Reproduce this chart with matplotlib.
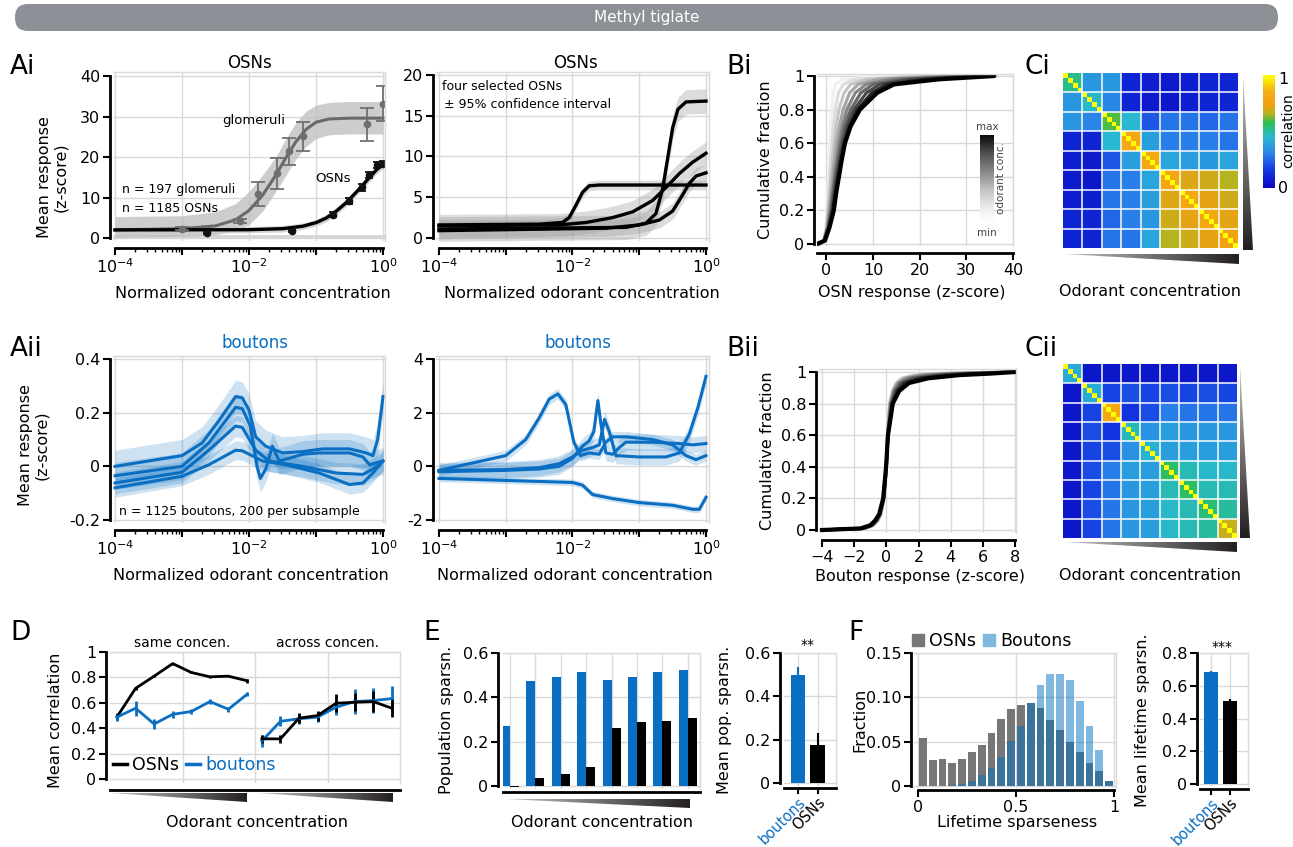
import numpy as np
import matplotlib
matplotlib.use("Agg")
import matplotlib.pyplot as plt
from matplotlib.colors import LinearSegmentedColormap
from matplotlib.patches import FancyBboxPatch, Polygon, Patch
from matplotlib.lines import Line2D
from matplotlib.ticker import FixedLocator, FixedFormatter, LogLocator, NullFormatter

plt.rcParams["font.family"] = ["DejaVu Sans"]

W, H = 1293, 847
BLUE = "#0a6fc2"
GRID = "#d9d9d9"
TICK = 11.5
LAB = 11.5

# ---------------- data ----------------
# Ai (left): glomeruli + OSN dose-response, x stored as log10(concentration)
glom_logx = [-3.0, -2.14, -1.87, -1.58, -1.40, -1.20, -0.24, 0.0]
glom_y = [2.3, 4.3, 10.9, 16.0, 21.4, 25.1, 28.1, 33.2]
glom_err = [0.4, 0.5, 3.0, 3.8, 3.3, 3.6, 4.1, 4.3]
glom_fit_logx = [-4, -3, -2.5, -2.2, -2.0, -1.8, -1.6, -1.45, -1.3, -1.15, -1.0, -0.8, -0.5, 0]
glom_fit = [2.0, 2.3, 3.0, 4.5, 6.8, 10.5, 15.5, 19.8, 23.8, 26.8, 28.6, 29.4, 29.6, 29.6]
glom_lo = [0.2, 0.4, 0.8, 1.8, 3.3, 6.5, 11.5, 15.5, 19.5, 22.6, 24.6, 25.5, 25.7, 25.7]
glom_hi = [5.3, 5.5, 6.5, 8.5, 11.5, 15.5, 20.0, 24.5, 28.5, 31.3, 32.8, 33.5, 33.7, 33.7]

osn_logx = [-2.63, -1.36, -0.74, -0.51, -0.32, -0.21, -0.09, 0.0]
osn_y = [1.3, 1.7, 5.8, 9.2, 12.5, 15.6, 18.1, 18.2]
osn_err = [0.3, 0.3, 0.5, 0.7, 0.8, 0.8, 0.7, 0.7]
osn_fit_logx = [-4, -2, -1.5, -1.2, -1.0, -0.85, -0.7, -0.55, -0.4, -0.3, -0.2, -0.1, 0]
osn_fit = [2.0, 2.05, 2.3, 2.9, 3.8, 4.9, 6.6, 8.7, 11.3, 13.1, 15.0, 16.8, 18.2]
osn_lo = [1.2, 1.3, 1.5, 2.1, 3.0, 4.0, 5.7, 7.8, 10.4, 12.2, 14.0, 15.8, 17.1]
osn_hi = [2.8, 2.8, 3.1, 3.7, 4.6, 5.8, 7.5, 9.6, 12.2, 14.0, 16.0, 17.8, 19.3]
osn_floor = [-0.3, 0.7]

# Ai (right): four selected OSNs
sel_logx = [
    [-4, -2.5, -2.15, -2.05, -1.95, -1.85, -1.75, -1.6, 0],
    [-4, -1.2, -0.9, -0.75, -0.65, -0.57, -0.5, -0.42, -0.3, 0],
    [-4, -2.2, -1.8, -1.4, -1.1, -0.8, -0.6, -0.4, -0.2, 0],
    [-4, -1.5, -1.0, -0.7, -0.5, -0.35, -0.25, -0.15, 0],
]
sel_y = [
    [1.6, 1.7, 1.9, 2.5, 4.0, 5.6, 6.4, 6.5, 6.5],
    [1.1, 1.3, 1.8, 3.0, 6.0, 10.0, 13.5, 15.8, 16.7, 16.8],
    [1.5, 1.6, 1.9, 2.5, 3.2, 4.6, 6.2, 7.9, 9.3, 10.4],
    [0.9, 1.2, 1.6, 2.2, 3.3, 5.3, 6.7, 7.6, 8.0],
]
sel_ci = [0.6, 1.5, 1.4, 1.0]

# Aii: bouton subsample means
bout_logx_l = [
    [-4, -3, -2.7, -2.45, -2.2, -2.1, -2.0, -1.9, -1.75, -1.5, -1.2, -0.9, -0.5, -0.25, -0.15, -0.08, 0],
    [-4, -3, -2.6, -2.2, -2.1, -1.98, -1.88, -1.83, -1.75, -1.65, -1.55, -1.4, -1.2, -0.95, -0.5, -0.3, -0.2, 0],
    [-4, -3, -2.6, -2.2, -2.1, -1.9, -1.7, -1.2, -0.7, -0.3, -0.15, 0],
    [-4, -3, -2.6, -2.2, -2.1, -1.8, -1.45, -0.95, -0.5, -0.3, -0.15, 0],
]
bout_y_l = [
    [0.0, 0.04, 0.087, 0.17, 0.26, 0.255, 0.21, 0.11, 0.075, 0.05, 0.055, 0.065, 0.065, 0.05, 0.04, 0.1, 0.26],
    [-0.035, 0.0, 0.087, 0.22, 0.215, 0.15, 0.0, -0.045, -0.01, 0.075, 0.02, 0.03, 0.045, 0.05, 0.05, 0.035, 0.006, 0.02],
    [-0.062, -0.022, 0.06, 0.15, 0.145, 0.06, 0.02, 0.0, -0.025, -0.03, -0.01, 0.02],
    [-0.08, -0.037, 0.006, 0.06, 0.058, 0.02, 0.006, -0.025, -0.068, -0.062, -0.025, 0.02],
]
bout_ci_l = [0.06, 0.05, 0.04, 0.035]

bout_logx_r = [
    [-4, -3, -2.7, -2.5, -2.35, -2.22, -2.1, -1.98, -1.88, -1.75, -1.6, -1.5, -1.4, -1.2, -0.8, -0.5, -0.3, -0.15, 0],
    [-4, -3, -2.5, -2.2, -2.0, -1.85, -1.75, -1.68, -1.62, -1.57, -1.5, -1.4, -1.3, -1.2, -0.8, -0.4, -0.2, 0],
    [-4, -3, -2.5, -2.2, -2.0, -1.85, -1.7, -1.6, -1.52, -1.45, -1.35, -1.0, -0.6, -0.4, -0.25, -0.12, 0],
    [-4, -2, -1.85, -1.7, -1.4, -1.0, -0.5, -0.2, -0.1, 0],
]
bout_y_r = [
    [-0.15, 0.4, 1.0, 1.8, 2.5, 2.7, 2.3, 0.9, 0.4, 0.5, 0.45, 0.9, 1.1, 1.1, 1.0, 0.8, 0.4, 0.25, 0.4],
    [-0.2, -0.15, -0.1, 0.0, 0.3, 0.75, 0.95, 1.3, 2.45, 1.5, 0.5, 0.45, 0.7, 0.9, 0.9, 0.85, 0.8, 0.85],
    [-0.15, -0.12, -0.05, 0.1, 0.35, 0.6, 0.7, 0.8, 1.75, 1.3, 0.4, 0.35, 0.35, 0.5, 1.2, 2.2, 3.35],
    [-0.45, -0.6, -0.7, -1.05, -1.2, -1.35, -1.45, -1.6, -1.6, -1.15],
]
bout_ci_r = [0.2, 0.3, 0.3, 0.12]

# Bi / Bii: cumulative distributions (x value reached at each cumulative level)
osn_levels = [0, 0.02, 0.1, 0.2, 0.3, 0.4, 0.5, 0.6, 0.7, 0.8, 0.9, 0.95, 0.98, 1.0]
osn_cdf_x = [
    [-1.2, -0.5, -0.1, 0.1, 0.3, 0.45, 0.6, 0.75, 0.9, 1.1, 1.5, 2.0, 3.5, 12],
    [-1.3, -0.5, 0.0, 0.25, 0.5, 0.7, 0.95, 1.2, 1.5, 1.9, 2.6, 3.6, 6.0, 18],
    [-1.4, -0.5, 0.1, 0.4, 0.7, 1.0, 1.3, 1.7, 2.1, 2.7, 3.8, 5.2, 8.5, 22],
    [-1.5, -0.5, 0.2, 0.6, 1.0, 1.35, 1.75, 2.2, 2.8, 3.6, 5.0, 6.8, 11, 25],
    [-1.6, -0.5, 0.3, 0.8, 1.25, 1.7, 2.2, 2.75, 3.4, 4.4, 6.2, 8.5, 13.5, 28],
    [-1.7, -0.5, 0.4, 1.0, 1.45, 1.95, 2.5, 3.1, 3.9, 5.2, 7.4, 10, 16, 30],
    [-1.8, -0.5, 0.5, 1.2, 1.7, 2.2, 2.8, 3.5, 4.4, 5.9, 8.6, 11.5, 18, 32],
    [-1.9, -0.4, 0.6, 1.4, 1.9, 2.5, 3.1, 3.8, 4.9, 6.6, 9.8, 13, 21, 34],
    [-2.0, -0.3, 0.7, 1.6, 2.1, 2.7, 3.3, 4.0, 5.2, 7.2, 10.9, 14.5, 24, 36],
]
bout_levels = [0, 0.01, 0.03, 0.06, 0.1, 0.2, 0.4, 0.6, 0.8, 0.88, 0.93, 0.96, 0.98, 0.99, 1.0]
bout_cdf_x = [
    [-4, -1.3, -0.8, -0.52, -0.34, -0.14, 0.0, 0.06, 0.2, 0.38, 0.6, 0.95, 1.7, 3.0, 8],
    [-4, -1.35, -0.82, -0.55, -0.36, -0.15, 0.0, 0.07, 0.22, 0.42, 0.68, 1.1, 2.0, 3.5, 8],
    [-4, -1.4, -0.85, -0.58, -0.38, -0.16, 0.0, 0.08, 0.26, 0.48, 0.78, 1.3, 2.4, 4.0, 8],
    [-4, -1.45, -0.9, -0.6, -0.4, -0.17, 0.0, 0.09, 0.3, 0.55, 0.9, 1.6, 3.0, 4.8, 8],
    [-4, -1.5, -0.95, -0.65, -0.42, -0.18, -0.01, 0.1, 0.35, 0.65, 1.1, 2.0, 3.6, 5.5, 8],
    [-4, -1.6, -1.0, -0.7, -0.45, -0.2, -0.02, 0.1, 0.4, 0.8, 1.4, 2.6, 4.5, 6.5, 8],
]

# Ci / Cii: mean correlation between concentration blocks (9 concentrations, 4 trials each)
osn_corr_blocks = [
    [0.52, 0.36, 0.36, 0.10, 0.08, 0.06, 0.08, 0.10, 0.10],
    [0.36, 0.46, 0.32, 0.10, 0.06, 0.05, 0.08, 0.10, 0.10],
    [0.36, 0.32, 0.60, 0.45, 0.22, 0.28, 0.28, 0.25, 0.28],
    [0.10, 0.10, 0.45, 0.80, 0.38, 0.30, 0.30, 0.30, 0.28],
    [0.08, 0.06, 0.22, 0.38, 0.82, 0.40, 0.38, 0.36, 0.40],
    [0.06, 0.05, 0.28, 0.30, 0.40, 0.80, 0.71, 0.69, 0.66],
    [0.08, 0.08, 0.28, 0.30, 0.38, 0.71, 0.80, 0.72, 0.69],
    [0.10, 0.10, 0.25, 0.30, 0.36, 0.69, 0.72, 0.80, 0.72],
    [0.10, 0.10, 0.28, 0.28, 0.40, 0.66, 0.69, 0.72, 0.76],
]
bout_corr_blocks = [
    [0.42, 0.05, 0.05, 0.05, 0.05, 0.05, 0.05, 0.05, 0.05],
    [0.05, 0.42, 0.18, 0.20, 0.18, 0.20, 0.18, 0.20, 0.18],
    [0.05, 0.18, 0.82, 0.15, 0.20, 0.30, 0.28, 0.28, 0.28],
    [0.05, 0.20, 0.15, 0.47, 0.35, 0.38, 0.36, 0.36, 0.36],
    [0.05, 0.18, 0.20, 0.35, 0.44, 0.38, 0.38, 0.38, 0.38],
    [0.05, 0.20, 0.30, 0.38, 0.38, 0.56, 0.48, 0.46, 0.46],
    [0.05, 0.18, 0.28, 0.36, 0.38, 0.48, 0.56, 0.48, 0.48],
    [0.05, 0.20, 0.28, 0.36, 0.38, 0.46, 0.48, 0.54, 0.50],
    [0.05, 0.18, 0.28, 0.36, 0.38, 0.46, 0.48, 0.50, 0.68],
]
n_trials = 4

# D: mean correlation
d_same_osn = [0.49, 0.714, 0.81, 0.909, 0.839, 0.805, 0.81, 0.774]
d_same_osn_err = [0.025, 0.01, 0.01, 0.008, 0.008, 0.008, 0.01, 0.015]
d_same_bout = [0.488, 0.558, 0.434, 0.51, 0.532, 0.61, 0.55, 0.667]
d_same_bout_err = [0.03, 0.06, 0.04, 0.025, 0.02, 0.02, 0.02, 0.015]
d_across_osn = [0.317, 0.317, 0.48, 0.50, 0.597, 0.605, 0.61, 0.558]
d_across_osn_err = [0.03, 0.03, 0.04, 0.04, 0.07, 0.07, 0.08, 0.07]
d_across_bout = [0.30, 0.455, 0.475, 0.488, 0.566, 0.61, 0.618, 0.634]
d_across_bout_err = [0.05, 0.04, 0.04, 0.04, 0.06, 0.1, 0.1, 0.1]

# E: population sparseness
pop_sp_bout = [0.27, 0.475, 0.493, 0.515, 0.479, 0.493, 0.515, 0.524]
pop_sp_osn = [-0.004, 0.039, 0.057, 0.085, 0.261, 0.289, 0.293, 0.307]
mean_pop_sp = [0.499, 0.178]
mean_pop_sp_err = [0.037, 0.052]

# F: lifetime sparseness histogram (20 bins of 0.05) and means
life_bins = np.arange(0, 1.0, 0.05)
life_osn = [0.0538, 0.0292, 0.0303, 0.0258, 0.0307, 0.0386, 0.046, 0.0595, 0.076, 0.0875,
            0.092, 0.094, 0.0886, 0.0746, 0.063, 0.050, 0.038, 0.026, 0.017, 0.0064]
life_bout = [0.0, 0.0, 0.0005, 0.0015, 0.0027, 0.0064, 0.0125, 0.020, 0.033, 0.051,
             0.068, 0.094, 0.114, 0.126, 0.126, 0.120, 0.096, 0.068, 0.041, 0.0064]
mean_life_sp = [0.683, 0.506]
mean_life_sp_err = [0.01, 0.012]
group_names = ["boutons", "OSNs"]

# ---------------- helpers ----------------
fig = plt.figure(figsize=(W / 100, H / 100), dpi=100)


def add_box(x0, y0, x1, y1):
    return fig.add_axes([x0 / W, 1 - y1 / H, (x1 - x0) / W, (y1 - y0) / H])


def ftext(x, y, s, **kw):
    return fig.text(x / W, 1 - y / H, s, **kw)


def frame(ax, left_px=3, bottom_px=7):
    ax.set_axisbelow(True)
    ax.grid(True, color=GRID, lw=1)
    for side in ("top", "right"):
        ax.spines[side].set_color(GRID)
        ax.spines[side].set_linewidth(1)
    for side, off in (("left", left_px), ("bottom", bottom_px)):
        ax.spines[side].set_linewidth(2)
        ax.spines[side].set_position(("outward", off * 0.72))
    ax.tick_params(direction="out", length=5, width=1.5, labelsize=TICK, pad=2)


def yticks(ax, vals, labels):
    ax.set_yticks(vals)
    ax.set_yticklabels(labels)
    ax.spines["left"].set_bounds(vals[0], vals[-1])


def log_x(ax, pad_dec):
    ax.set_xscale("log")
    ax.set_xlim(10 ** (-4 - pad_dec), 10 ** pad_dec)
    ax.xaxis.set_major_locator(FixedLocator([1e-4, 1e-3, 1e-2, 1e-1, 1]))
    ax.xaxis.set_major_formatter(FixedFormatter(["$10^{-4}$", "", "$10^{-2}$", "", "$10^{0}$"]))
    ax.xaxis.set_minor_locator(LogLocator(base=10, subs=np.arange(2, 10)))
    ax.xaxis.set_minor_formatter(NullFormatter())
    ax.tick_params(axis="x", which="minor", length=3, width=1)
    ax.spines["bottom"].set_bounds(1e-4, 1)


wedge_cmap = LinearSegmentedColormap.from_list("wedge", ["#c4c4c4", "#231f20"])


def wedge(pts, vertical=False):
    xs = [p[0] for p in pts]
    ys = [p[1] for p in pts]
    x0, x1, y0, y1 = min(xs), max(xs), min(ys), max(ys)
    ax = add_box(x0, y0, x1, y1)
    ax.axis("off")
    g = np.linspace(0, 1, 256)
    grad = g[:, None] if vertical else g[None, :]
    im = ax.imshow(grad, cmap=wedge_cmap, aspect="auto", extent=(0, 1, 0, 1))
    poly = Polygon([((x - x0) / (x1 - x0), 1 - (y - y0) / (y1 - y0)) for x, y in pts],
                   closed=True, transform=ax.transAxes)
    im.set_clip_path(poly)


def panel_letter(x, y, s):
    ftext(x, y, s, fontsize=19, ha="left", va="baseline")


def lx(v):
    return 10 ** np.asarray(v, dtype=float)


def group_ticks(ax):
    ax.set_xticks([0, 1])
    ax.set_xticklabels(group_names, rotation=45, ha="right", rotation_mode="anchor",
                       fontsize=10.5)
    ax.get_xticklabels()[0].set_color(BLUE)
    ax.tick_params(axis="x", length=4, pad=1)


# ---------------- banner ----------------
bax = add_box(0, 0, W, 40)
bax.set_xlim(0, W)
bax.set_ylim(40, 0)
bax.axis("off")
bax.add_patch(FancyBboxPatch((15, 4), 1263, 27, boxstyle="round,pad=0,rounding_size=13",
                             fc="#8e9097", ec="none"))
bax.text(647, 17.5, "Methyl tiglate", color="white", fontsize=11, ha="center", va="center",
         family=["Liberation Sans Narrow", "DejaVu Sans"])

# ---------------- Ai left ----------------
ax = add_box(113, 72, 385, 241)
frame(ax)
log_x(ax, 0.03)
ax.set_ylim(-0.74, 41)
yticks(ax, [0, 10, 20, 30, 40], ["0", "10", "20", "30", "40"])
ax.axhspan(osn_floor[0], osn_floor[1], color="#d6d6d6", lw=0)
ax.fill_between(lx(glom_fit_logx), glom_lo, glom_hi, color="#bdbdbd", alpha=0.75, lw=0)
ax.fill_between(lx(osn_fit_logx), osn_lo, osn_hi, color="#c8c8c8", alpha=0.8, lw=0)
ax.plot(lx(glom_fit_logx), glom_fit, color="#6a6a6a", lw=2.2)
ax.plot(lx(osn_fit_logx), osn_fit, color="black", lw=2.4)
ax.errorbar(lx(glom_logx), glom_y, yerr=glom_err, fmt="o", ms=4.5, color="#6f6f6f",
            ecolor="#6f6f6f", elinewidth=1.3, capsize=5, capthick=1.3)
ax.errorbar(lx(osn_logx), osn_y, yerr=osn_err, fmt="o", ms=4.5, color="#111111",
            ecolor="#111111", elinewidth=1.3, capsize=3, capthick=1.3)
ftext(250, 63, "OSNs", fontsize=12, ha="center", va="center")
ftext(254, 120, "glomeruli", fontsize=9.5, ha="center", va="center")
ftext(333, 179, "OSNs", fontsize=9.5, ha="center", va="center")
ftext(122, 189, "n = 197 glomeruli", fontsize=9, ha="left", va="center")
ftext(122, 208, "n = 1185 OSNs", fontsize=9, ha="left", va="center")
ftext(53, 177, "Mean response\n(z-score)", fontsize=LAB, rotation=90, ha="center",
      va="center", linespacing=1.1)
ftext(253, 294, "Normalized odorant concentration", fontsize=LAB, ha="center", va="center")
panel_letter(10, 74, "Ai")

# ---------------- Ai right ----------------
ax = add_box(436, 72, 709, 241)
frame(ax)
log_x(ax, 0.045)
ax.set_ylim(-0.37, 20.37)
yticks(ax, [0, 5, 10, 15, 20], ["0", "5", "10", "15", "20"])
for xs, ys, ci in zip(sel_logx, sel_y, sel_ci):
    ax.fill_between(lx(xs), np.asarray(ys) - ci, np.asarray(ys) + ci, color="#9c9c9c",
                    alpha=0.35, lw=0)
for xs, ys in zip(sel_logx, sel_y):
    ax.plot(lx(xs), ys, color="black", lw=2.4)
ftext(576, 63, "OSNs", fontsize=12, ha="center", va="center")
ftext(442, 86, "four selected OSNs", fontsize=9, ha="left", va="center")
ftext(444, 104, "\u00b1 95% confidence interval", fontsize=9, ha="left", va="center")
ftext(582, 294, "Normalized odorant concentration", fontsize=LAB, ha="center", va="center")

# ---------------- Bi ----------------
ax = add_box(817, 74, 1013, 246)
frame(ax)
ax.set_xlim(-2, 40)
ax.set_ylim(-0.012, 1.012)
ax.set_xticks([0, 10, 20, 30, 40])
ax.spines["bottom"].set_bounds(-2, 40)
yticks(ax, [0, 0.2, 0.4, 0.6, 0.8, 1.0], ["0", "0.2", "0.4", "0.6", "0.8", "1"])
shades = plt.cm.Greys(np.linspace(0.12, 1.0, len(osn_cdf_x)))
for i, xs in enumerate(osn_cdf_x):
    ax.plot(xs, osn_levels, color=shades[i], lw=3.0 if i == len(osn_cdf_x) - 1 else 2.3,
            solid_capstyle="round")
ax.set_ylabel("Cumulative fraction", fontsize=LAB, labelpad=4)
ftext(912, 293, "OSN response (z-score)", fontsize=LAB, ha="center", va="center")
cax = add_box(980, 135, 994, 222)
cax.imshow(np.linspace(0.95, 0.0, 100)[:, None], cmap="Greys", aspect="auto", vmin=0, vmax=1)
cax.axis("off")
ftext(987, 127, "max", fontsize=7.5, ha="center", va="center", color="#444444")
ftext(987, 233, "min", fontsize=7.5, ha="center", va="center", color="#444444")
ftext(1001, 178, "odorant conc.", fontsize=7.5, rotation=90, ha="center", va="center",
      color="#444444")
panel_letter(726, 74, "Bi")

# ---------------- Ci / Cii heatmaps ----------------
corr_cmap = LinearSegmentedColormap.from_list(
    "corr", [(0, "#0a0ac0"), (0.15, "#1234e0"), (0.3, "#2a80ea"), (0.45, "#28b8d2"),
             (0.58, "#2cc050"), (0.66, "#b8b420"), (0.74, "#f2a010"), (0.86, "#f4b014"),
             (1.0, "#ffff00")])


def heatmap(box, blocks):
    hax = add_box(*box)
    mat = np.kron(np.asarray(blocks), np.ones((n_trials, n_trials)))
    np.fill_diagonal(mat, 1.0)
    im = hax.imshow(mat, cmap=corr_cmap, vmin=0, vmax=1, interpolation="nearest", aspect="auto")
    nb = len(blocks)
    for k in range(1, nb):
        hax.axhline(k * n_trials - 0.5, color="white", lw=1.2, alpha=0.9)
        hax.axvline(k * n_trials - 0.5, color="white", lw=1.2, alpha=0.9)
    hax.set_xticks([])
    hax.set_yticks([])
    for s in hax.spines.values():
        s.set_visible(False)
    return im


im = heatmap((1063, 73, 1238, 248), osn_corr_blocks)
wedge([(1064, 254), (1239, 254), (1239, 264)])
wedge([(1243, 76), (1243, 250), (1253, 250)], vertical=True)
cbax = add_box(1263, 75, 1275, 188)
cb = fig.colorbar(im, cax=cbax, ticks=[])
cb.outline.set_visible(False)
ftext(1278, 79, "1", fontsize=TICK, ha="left", va="center")
ftext(1278, 188, "0", fontsize=TICK, ha="left", va="center")
ftext(1288, 131, "correlation", fontsize=10, rotation=90, ha="center", va="center")
ftext(1150, 292, "Odorant concentration", fontsize=LAB, ha="center", va="center")
panel_letter(1024, 74, "Ci")

heatmap((1063, 364, 1237, 538), bout_corr_blocks)
wedge([(1064, 542), (1237, 542), (1237, 552)])
wedge([(1240, 366), (1240, 538), (1250, 538)], vertical=True)
ftext(1150, 575, "Odorant concentration", fontsize=LAB, ha="center", va="center")
panel_letter(1024, 356, "Cii")

# ---------------- Aii ----------------
for (x0, x1, pad), xs_list, ys_list, cis, lims, ticks, labels in (
    ((113, 385, 0.03), bout_logx_l, bout_y_l, bout_ci_l, (-0.211, 0.411),
     [-0.2, 0, 0.2, 0.4], ["-0.2", "0", "0.2", "0.4"]),
    ((436, 709, 0.045), bout_logx_r, bout_y_r, bout_ci_r, (-2.11, 4.11),
     [-2, 0, 2, 4], ["-2", "0", "2", "4"]),
):
    ax = add_box(x0, 356, x1, 523)
    frame(ax)
    log_x(ax, pad)
    ax.set_ylim(*lims)
    yticks(ax, ticks, labels)
    for xs, ys, ci in zip(xs_list, ys_list, cis):
        ax.fill_between(lx(xs), np.asarray(ys) - ci, np.asarray(ys) + ci, color=BLUE,
                        alpha=0.2, lw=0)
    for xs, ys in zip(xs_list, ys_list):
        ax.plot(lx(xs), ys, color=BLUE, lw=2.2)
    ftext((x0 + x1) / 2 + 6, 343, "boutons", fontsize=12, color=BLUE, ha="center", va="center")
    ftext((x0 + x1) / 2 + 2, 575, "Normalized odorant concentration", fontsize=LAB,
          ha="center", va="center")
ftext(119, 512, "n = 1125 boutons, 200 per subsample", fontsize=9, ha="left", va="center")
ftext(34, 445, "Mean response\n(z-score)", fontsize=LAB, rotation=90, ha="center",
      va="center", linespacing=1.1)
panel_letter(10, 356, "Aii")

# ---------------- Bii ----------------
ax = add_box(819, 369, 1016, 533)
frame(ax)
ax.set_xlim(-4.19, 8.06)
ax.set_ylim(-0.019, 1.019)
ax.set_xticks([-4, -2, 0, 2, 4, 6, 8])
ax.spines["bottom"].set_bounds(-4, 8)
yticks(ax, [0, 0.2, 0.4, 0.6, 0.8, 1.0], ["0", "0.2", "0.4", "0.6", "0.8", "1"])
bshades = plt.cm.Greys(np.linspace(0.3, 1.0, len(bout_cdf_x)))
for i, xs in enumerate(bout_cdf_x):
    ax.plot(xs, bout_levels, color=bshades[i], lw=3.0 if i == len(bout_cdf_x) - 1 else 2.3)
ax.set_ylabel("Cumulative fraction", fontsize=LAB, labelpad=4)
ftext(920, 576, "Bouton response (z-score)", fontsize=LAB, ha="center", va="center")
panel_letter(726, 356, "Bii")

# ---------------- D ----------------
ax = add_box(110, 652, 400, 783)
frame(ax, left_px=4, bottom_px=7)
ax.set_ylim(-0.03, 1.0)
xl = (-0.377, 15.24)
ax.set_xlim(*xl)
ax.set_xticks([xl[0] + k * (xl[1] - xl[0]) / 4 for k in (1, 2, 3)])
ax.tick_params(axis="x", length=0, labelbottom=False)
yticks(ax, [0, 0.2, 0.4, 0.6, 0.8, 1.0], ["0", "0.2", "0.4", "0.6", "0.8", "1"])
same_x = np.arange(len(d_same_osn))
across_x = np.arange(len(d_across_osn)) + 7.8
ax.errorbar(same_x, d_same_osn, yerr=d_same_osn_err, color="black", lw=2, elinewidth=2)
ax.errorbar(same_x, d_same_bout, yerr=d_same_bout_err, color=BLUE, lw=2, elinewidth=2)
ax.errorbar(across_x, d_across_bout, yerr=d_across_bout_err, color=BLUE, lw=2, elinewidth=2)
ax.errorbar(across_x, d_across_osn, yerr=d_across_osn_err, color="black", lw=2, elinewidth=2)
leg = ax.legend([Line2D([], [], color="black", lw=2.5), Line2D([], [], color=BLUE, lw=2.5)],
                ["OSNs", "boutons"], loc="center left", bbox_to_anchor=(0.01, 0.14), ncol=2,
                frameon=False, fontsize=12.5, handlelength=0.8, handletextpad=0.3,
                columnspacing=0.4, borderpad=0, borderaxespad=0)
leg.get_texts()[1].set_color(BLUE)
ftext(182, 643, "same concen.", fontsize=10, ha="center", va="center")
ftext(327, 643, "across concen.", fontsize=10, ha="center", va="center")
wedge([(110, 793), (247, 793), (247, 802)])
wedge([(258, 793), (393, 793), (393, 802)])
ftext(56, 720, "Mean correlation", fontsize=LAB, rotation=90, ha="center", va="center")
ftext(257, 822, "Odorant concentration", fontsize=LAB, ha="center", va="center")
panel_letter(10, 640, "D")

# ---------------- E ----------------
ax = add_box(503, 653, 700, 789)
frame(ax, left_px=5, bottom_px=3)
ax.set_xlim(-0.276, 7.48)
ax.set_ylim(-0.012, 0.6)
groups = np.arange(len(pop_sp_bout))
ax.set_xticks(groups)
ax.tick_params(axis="x", length=0, labelbottom=False)
yticks(ax, [0, 0.2, 0.4, 0.6], ["0", "0.2", "0.4", "0.6"])
ax.bar(groups - 0.177, pop_sp_bout, width=0.354, color=BLUE)
ax.bar(groups + 0.177, pop_sp_osn, width=0.354, color="black")
wedge([(505, 799), (690, 799), (690, 808)])
ftext(446, 720, "Population sparsn.", fontsize=LAB, rotation=90, ha="center", va="center")
ftext(602, 822, "Odorant concentration", fontsize=LAB, ha="center", va="center")
panel_letter(423, 640, "E")

ax = add_box(784, 653, 836, 786)
frame(ax, left_px=4, bottom_px=2)
ax.set_xlim(-0.74, 1.95)
ax.set_ylim(-0.012, 0.6)
yticks(ax, [0, 0.2, 0.4, 0.6], ["0", "0.2", "0.4", "0.6"])
ax.bar([0, 1], mean_pop_sp, width=0.74, color=[BLUE, "black"],
       yerr=[[0, 0], mean_pop_sp_err], ecolor=[BLUE, "black"], error_kw={"elinewidth": 1.5})
group_ticks(ax)
ftext(808, 645, "**", fontsize=10, ha="center", va="center")
ftext(724, 720, "Mean pop. sparsn.", fontsize=LAB, rotation=90, ha="center", va="center")

# ---------------- F ----------------
ax = add_box(914, 653, 1116, 788)
frame(ax, left_px=3, bottom_px=2)
ax.set_xlim(-0.02, 1.01)
ax.set_ylim(-0.002, 0.15)
ax.set_xticks([0, 0.5, 1])
ax.set_xticklabels(["0", "0.5", "1"])
ax.spines["bottom"].set_bounds(0, 1)
yticks(ax, [0, 0.05, 0.10, 0.15], ["0", "0.05", "0.10", "0.15"])
ax.bar(life_bins + 0.025, life_osn, width=0.04, color="#777777")
ax.bar(life_bins + 0.025, life_bout, width=0.04, color="#0070c0", alpha=0.5)
ax.legend([Patch(color="#777777"), Patch(color="#7fb7df")], ["OSNs", "Boutons"],
          loc="center left", bbox_to_anchor=(-0.01, 1.09), ncol=2, frameon=False,
          fontsize=12.5, handlelength=0.7, handleheight=0.7, handletextpad=0.3,
          columnspacing=0.4, borderpad=0, borderaxespad=0)
ftext(860, 720, "Fraction", fontsize=LAB, rotation=90, ha="center", va="center")
ftext(1017, 822, "Lifetime sparseness", fontsize=LAB, ha="center", va="center")
panel_letter(848, 640, "F")

ax = add_box(1200, 653, 1248, 786)
frame(ax, left_px=3, bottom_px=3)
ax.set_xlim(-0.58, 1.95)
ax.set_ylim(-0.012, 0.8)
yticks(ax, [0, 0.2, 0.4, 0.6, 0.8], ["0", "0.2", "0.4", "0.6", "0.8"])
ax.bar([0, 1], mean_life_sp, width=0.74, color=[BLUE, "black"],
       yerr=[[0, 0], mean_life_sp_err], ecolor=[BLUE, "black"], error_kw={"elinewidth": 1.5})
group_ticks(ax)
ftext(1222, 647, "***", fontsize=10, ha="center", va="center")
ftext(1142, 720, "Mean lifetime sparsn.", fontsize=LAB, rotation=90, ha="center", va="center")

fig.savefig("out.png", dpi=100)
